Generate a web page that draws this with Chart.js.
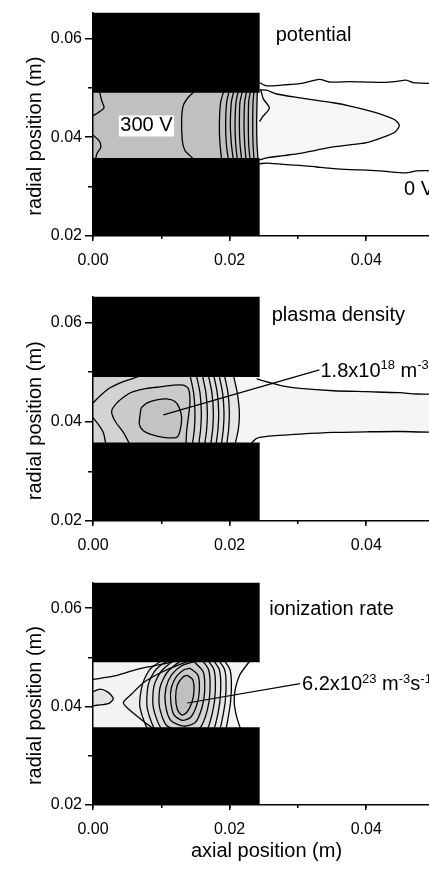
<!DOCTYPE html>
<html><head><meta charset="utf-8">
<script src="https://cdn.jsdelivr.net/npm/chart.js@4/dist/chart.umd.min.js"></script>
<style>
html,body{margin:0;padding:0;background:#fff;}
body{width:429px;height:871px;overflow:hidden;position:relative;}
canvas{position:absolute;left:0;}
</style></head><body>
<canvas id="c1" width="440" height="280" style="top:0px"></canvas>
<canvas id="c2" width="440" height="282" style="top:284px"></canvas>
<canvas id="c3" width="440" height="301" style="top:570px"></canvas>
<script>
// ---------- axes ----------
const axialTickValues = [0, 0.02, 0.04];
const axialTickLabels = ['0.00', '0.02', '0.04'];
const axialMinorTicks = [0, 0.01, 0.02, 0.03, 0.04, 0.05];
const radialTickValues = [0.02, 0.04, 0.06];
const radialTickLabels = ['0.02', '0.04', '0.06'];
const radialMinorTicks = [0.03, 0.05];
const axialRange = [0, 0.0508];
const radialRange = [0.02, 0.0652];

// ---------- electrodes ----------
const electrodeX = [0, 0.0244];
const upperElectrodeY = [0.049, 0.0652];
const lowerElectrodeY = [0.02, 0.0358];
const channelEdgeY = [0.0354, 0.0496];

// ---------- panel 1: potential ----------
const potPlumeTop = [[0.0244,0.04958],[0.02543,0.04951],[0.02689,0.04873],[0.03031,0.04794],[0.03324,0.04735],[0.03519,0.04696],[0.03763,0.0463],[0.04007,0.04545],[0.04251,0.04446],[0.04422,0.04348],[0.04485,0.04236]];
const potPlumeBottom = [[0.04422,0.04105],[0.04251,0.04],[0.04007,0.03888],[0.03763,0.03843],[0.03519,0.03803],[0.03275,0.03738],[0.03031,0.03672],[0.02787,0.03626],[0.02543,0.0358],[0.0244,0.03541]];
const potOuterTop = [[0.0244,0.05102],[0.02543,0.05037],[0.02787,0.05056],[0.03031,0.05083],[0.03314,0.05168],[0.0347,0.05115],[0.03763,0.05122],[0.04007,0.05115],[0.04251,0.05109],[0.04447,0.05129],[0.04583,0.05155],[0.0469,0.05102],[0.04919,0.05089],[0.0508,0.05089]];
const potOuterBottom = [[0.0244,0.03462],[0.02543,0.03475],[0.02787,0.03449],[0.03031,0.03429],[0.03275,0.03396],[0.03519,0.03364],[0.03763,0.03344],[0.04007,0.03331],[0.04251,0.03311],[0.04583,0.03278],[0.04739,0.03318],[0.0508,0.03318]];
const potZigzag = [[0.02455,0.04958],[0.02494,0.04774],[0.02582,0.04591],[0.02484,0.04413],[0.0244,0.04315]];
const potBow = [[0.0150,0.0495],[0.01396,0.04807],[0.01323,0.04643],[0.01298,0.04381],[0.01308,0.03921],[0.01347,0.03724],[0.0142,0.03626],[0.0149,0.0354]];
const potLeftUpper = [[0.00093,0.04938],[0.00127,0.04741],[0.00161,0.04591],[0.00078,0.04499],[0,0.04433]];
const potLeftLower = [[0,0.04039],[0.00093,0.03921],[0.00112,0.0379],[0.00054,0.03659],[0.00039,0.03541]];
const potDenseY = [0.0494, 0.0471, 0.0425, 0.0386, 0.0354];
const potDenseX = [
  [0.01918,0.01869,0.0185,0.01859,0.01884],
  [0.01996,0.01957,0.01942,0.01952,0.01982],
  [0.02064,0.02026,0.02011,0.02026,0.02055],
  [0.02128,0.02094,0.02079,0.02089,0.02113],
  [0.02191,0.02152,0.02143,0.02152,0.02177],
  [0.0225,0.02221,0.02211,0.02221,0.0224],
  [0.02308,0.02279,0.02274,0.02279,0.02299],
  [0.02357,0.02343,0.02338,0.02343,0.02357],
  [0.02406,0.02401,0.02396,0.02401,0.02416]
];

// ---------- panel 2: plasma density ----------
const densTopLeft = [[0,0.04375],[0.00102,0.04519],[0.00249,0.04683],[0.00444,0.04808],[0.0059,0.04873],[0.00664,0.04913]];
const densBottomLeft = [[0,0.04079],[0.00078,0.03948],[0.00151,0.03784],[0.0019,0.03535]];
const densSecond = [[0.00542,0.03535],[0.00444,0.03784],[0.00322,0.04014],[0.00273,0.04211],[0.00347,0.04375],[0.00493,0.04539],[0.0059,0.04604],[0.00786,0.0467],[0.00981,0.04703],[0.01176,0.04736],[0.01323,0.04736],[0.01396,0.0467],[0.0142,0.04407],[0.01396,0.04079],[0.01371,0.03817],[0.01362,0.03535]];
const densPeak = [[0.00703,0.04276],[0.00678,0.03948],[0.00737,0.03817],[0.00835,0.03751],[0.0103,0.03685],[0.01225,0.03685],[0.01274,0.03817],[0.01298,0.04079],[0.01264,0.04276],[0.01201,0.04407],[0.01079,0.0446],[0.00932,0.0444],[0.00786,0.04375],[0.00703,0.04276]];
const densDenseY = [0.0494, 0.04572, 0.04178, 0.03849, 0.03535];
const densDenseX = [
  [0.0142,0.01474,0.01493,0.01484,0.01454],
  [0.01513,0.01567,0.01586,0.01576,0.01547],
  [0.01601,0.01654,0.01674,0.01664,0.01635],
  [0.01689,0.01742,0.01762,0.01752,0.01723],
  [0.01767,0.0182,0.0184,0.0183,0.01801],
  [0.01845,0.01898,0.01918,0.01908,0.01879],
  [0.01923,0.01977,0.01996,0.01986,0.01957],
  [0.02055,0.02113,0.02143,0.02128,0.02079]
];
const densBandColors = ['#d3d3d3','#d5d5d5','#d7d7d7','#d9d9d9','#dbdbdb','#dedede','#e1e1e1','#e6e6e6'];
const densPlumeTop = [[0.02396,0.04867],[0.02494,0.04821],[0.02787,0.04716],[0.03031,0.0467],[0.03519,0.04624],[0.04007,0.04604],[0.04495,0.04584],[0.04739,0.04558],[0.0508,0.04558]];
const densPlumeBottom = [[0.02323,0.03574],[0.02396,0.03666],[0.02543,0.03705],[0.03031,0.03751],[0.03519,0.03784],[0.04007,0.03797],[0.04495,0.03803],[0.0508,0.03784]];
const densLeader = [[0.0103,0.04138],[0.03314,0.05044]];

// ---------- panel 3: ionization rate ----------
const ionTopLeft = [[0,0.04552],[0.00298,0.04617],[0.00542,0.04716],[0.00786,0.04801],[0.0103,0.04867],[0.01176,0.04913]];
const ionLeftBump = [[0,0.04302],[0.00102,0.04355],[0.00224,0.04289],[0.00298,0.04158],[0.00224,0.04059],[0.00054,0.04027],[0,0.04014]];
const ionRightEdge = [[0.02289,0.04913],[0.02152,0.04651],[0.02079,0.04323],[0.02069,0.0406],[0.02103,0.03797],[0.02162,0.03535]];
const ionLoops = [
  [[0.01381,0.04637],[0.01459,0.04552],[0.01479,0.04322],[0.01445,0.04073],[0.01371,0.0388],[0.01298,0.0383],[0.01235,0.03942],[0.0121,0.04191],[0.01235,0.0444],[0.01313,0.04598]],
  [[0.0142,0.04781],[0.01537,0.04637],[0.01557,0.04322],[0.01518,0.04027],[0.0143,0.03784],[0.01313,0.03719],[0.01186,0.0383],[0.01137,0.04125],[0.01147,0.04388],[0.01225,0.04617],[0.01332,0.04749]],
  [[0.01479,0.04913],[0.01615,0.04703],[0.01635,0.04322],[0.01596,0.03981],[0.01498,0.03679],[0.01332,0.03601],[0.01137,0.03719],[0.01059,0.0406],[0.01069,0.04388],[0.01152,0.0465],[0.01298,0.0483]],
  [[0.01557,0.05011],[0.01693,0.04749],[0.01713,0.04322],[0.01674,0.03928],[0.01567,0.03568],[0.01352,0.03482],[0.01079,0.03614],[0.00971,0.04007],[0.00981,0.04388],[0.01079,0.04683],[0.01274,0.04913]],
  [[0.0164,0.05011],[0.01772,0.04749],[0.01791,0.04322],[0.01752,0.03896],[0.01645,0.03469],[0.01371,0.03371],[0.0102,0.03522],[0.00883,0.03981],[0.00893,0.04421],[0.01005,0.04729],[0.01249,0.04978]],
  [[0.01723,0.05011],[0.0185,0.04749],[0.01869,0.04322],[0.0183,0.03863],[0.01723,0.03404],[0.01371,0.03272],[0.00957,0.03436],[0.00796,0.03955],[0.0081,0.04453],[0.00932,0.04768],[0.01225,0.05011]],
  [[0.01801,0.05011],[0.01928,0.04749],[0.01947,0.04322],[0.01908,0.0385],[0.01801,0.03371],[0.01371,0.03207],[0.00883,0.03371],[0.00688,0.03981],[0.00727,0.04467],[0.00859,0.04795],[0.01201,0.05031]],
  [[0.01879,0.05011],[0.02006,0.04749],[0.02025,0.04322],[0.01986,0.0383],[0.01879,0.03338],[0.01274,0.03207],[0.00932,0.03502],[0.00566,0.03896],[0.00444,0.04079],[0.00566,0.04257],[0.00737,0.04486],[0.00981,0.04683],[0.01274,0.0486],[0.01567,0.04978]]
];
const ionLoopColors = ['#c0c0c0','#c8c8c8','#cecece','#d4d4d4','#dadada','#e0e0e0','#e6e6e6','#ececec'];
const ionLeader = [[0.01381,0.04073],[0.03031,0.04467]];

// ---------- helpers ----------
const P = arr => arr.map(([x, y]) => ({x, y}));
function fillDs(points, color) {
  return {data: P(points), showLine: true, fill: 'shape', backgroundColor: color,
          borderColor: 'rgba(0,0,0,0)', borderWidth: 0, pointRadius: 0, tension: 0};
}
function lineDs(points, width, tension) {
  return {data: P(points), showLine: true, fill: false, borderColor: '#000',
          borderWidth: width || 1.3, pointRadius: 0, tension: tension === undefined ? 0.25 : tension};
}
function rect(xr, yr) { return [[xr[0], yr[0]], [xr[1], yr[0]], [xr[1], yr[1]], [xr[0], yr[1]]]; }
function denseLines(xs, ys) { return xs.map(row => row.map((x, i) => [x, ys[i]])); }
function leftOf(line) { return [[0, channelEdgeY[1]]].concat(line, [[0, channelEdgeY[0]]]); }
function electrodes() {
  return [fillDs(rect(electrodeX, upperElectrodeY), '#000'), fillDs(rect(electrodeX, lowerElectrodeY), '#000')];
}

Chart.defaults.font.family = "'Liberation Sans', Arial, Helvetica, sans-serif";
Chart.defaults.color = '#000';

function drawRich(ctx, parts, x, y, align, box) {
  const main = 20, sup = 13, raise = 6;
  const fam = Chart.defaults.font.family;
  let w = 0;
  parts.forEach(p => { ctx.font = (p.sup ? sup : main) + 'px ' + fam; p.w = ctx.measureText(p.t).width; w += p.w; });
  let sx = align === 'center' ? x - w / 2 : x;
  if (box) { ctx.fillStyle = '#fff'; ctx.fillRect(sx - 1.5, y - 10.5, w + 3, 21); }
  ctx.fillStyle = '#000';
  ctx.textBaseline = 'middle';
  ctx.textAlign = 'left';
  parts.forEach(p => {
    ctx.font = (p.sup ? sup : main) + 'px ' + fam;
    ctx.fillText(p.t, sx, p.sup ? y - raise : y);
    sx += p.w;
  });
}

const textPlugin = {
  id: 'panelText',
  afterDraw(chart, args, opts) {
    const ctx = chart.ctx, xs = chart.scales.x, ys = chart.scales.y;
    ctx.save();
    (opts.items || []).forEach(it => {
      drawRich(ctx, it.parts, xs.getPixelForValue(it.at[0]), ys.getPixelForValue(it.at[1]), it.align, it.box);
    });
    ctx.translate(opts.yTitleX, ys.getPixelForValue(opts.yTitleAt));
    ctx.rotate(-Math.PI / 2);
    ctx.font = '20px ' + Chart.defaults.font.family;
    ctx.fillStyle = '#000';
    ctx.textAlign = 'center';
    ctx.textBaseline = 'middle';
    ctx.fillText('radial position (m)', 0, 0);
    ctx.restore();
  }
};

function buildChart(id, layers, xAxisHeight, showXTitle, items) {
  const datasets = layers.map((d, i) => Object.assign(d, {order: layers.length - i}));
  return new Chart(document.getElementById(id), {
    type: 'scatter',
    data: {datasets},
    options: {
      responsive: false, animation: false, events: [],
      layout: {padding: {top: 8, left: 0, right: 0, bottom: 0}},
      plugins: {legend: {display: false}, tooltip: {enabled: false},
                panelText: {items, yTitleX: 35, yTitleAt: 0.0402}},
      scales: {
        x: {type: 'linear', axis: 'x', position: 'bottom', min: axialRange[0], max: axialRange[1],
            afterBuildTicks: s => { s.ticks = axialTickValues.map(v => ({value: v})); },
            ticks: {callback: (v, i) => axialTickLabels[i], padding: 10, font: {size: 16}, color: '#000', maxRotation: 0, autoSkip: false},
            grid: {drawOnChartArea: false, drawTicks: true, tickLength: 5, color: '#000', lineWidth: 1.5},
            border: {display: true, color: '#000', width: 1.5, z: 1},
            title: {display: showXTitle, text: 'axial position (m)', font: {size: 20}, color: '#000', padding: {top: 0, bottom: 8}},
            afterFit: s => { s.height = xAxisHeight; }},
        y: {type: 'linear', axis: 'y', position: 'left', min: radialRange[0], max: radialRange[1],
            afterBuildTicks: s => { s.ticks = radialTickValues.map(v => ({value: v})); },
            ticks: {callback: (v, i) => radialTickLabels[i], padding: 3, font: {size: 16}, color: '#000', autoSkip: false},
            grid: {drawOnChartArea: false, drawTicks: true, tickLength: 8, color: '#000', lineWidth: 1.5},
            border: {display: true, color: '#000', width: 1.5, z: 1},
            afterFit: s => { s.width = 93; }},
        xMinor: {type: 'linear', axis: 'x', position: {y: radialRange[0]}, min: axialRange[0], max: axialRange[1],
            afterBuildTicks: s => { s.ticks = axialMinorTicks.map(v => ({value: v})); },
            ticks: {display: false},
            grid: {drawOnChartArea: false, drawTicks: true, tickLength: 3, color: '#000', lineWidth: 1.5},
            border: {display: false}},
        yMinor: {type: 'linear', axis: 'y', position: {x: axialRange[0]}, min: radialRange[0], max: radialRange[1],
            afterBuildTicks: s => { s.ticks = radialMinorTicks.map(v => ({value: v})); },
            ticks: {display: false},
            grid: {drawOnChartArea: false, drawTicks: true, tickLength: 5, color: '#000', lineWidth: 1.5},
            border: {display: false}}
      }
    },
    plugins: [textPlugin]
  });
}

// ---------- panel 1 ----------
(function () {
  const dense = denseLines(potDenseX, potDenseY);
  const plumeLine = potPlumeTop.concat(potPlumeBottom);
  const plumePoly = [[0.0235, channelEdgeY[1]]].concat(plumeLine, [[0.0235, channelEdgeY[0]]]);
  const layers = [
    fillDs(plumePoly, '#f6f6f6'),
    fillDs(leftOf(dense[dense.length - 1]), '#c0c0c0'),
    lineDs(plumeLine), lineDs(potOuterTop), lineDs(potOuterBottom), lineDs(potZigzag),
    lineDs(potBow), lineDs(potLeftUpper), lineDs(potLeftLower)
  ].concat(dense.map(l => lineDs(l)), electrodes());
  buildChart('c1', layers, 44, false, [
    {at: [0.02675, 0.06067], parts: [{t: 'potential'}]},
    {at: [0.00783, 0.04226], parts: [{t: '300 V'}], align: 'center', box: true},
    {at: [0.04553, 0.02937], parts: [{t: '0 V'}]}
  ]);
})();

// ---------- panel 2 ----------
(function () {
  const dense = denseLines(densDenseX, densDenseY);
  const plumePoly = [[0.0200, channelEdgeY[1]], [0.02396, channelEdgeY[1]]].concat(
      densPlumeTop, densPlumeBottom.slice().reverse(), [[0.02323, channelEdgeY[0]], [0.0200, channelEdgeY[0]]]);
  const bands = [];
  for (let k = dense.length - 1; k >= 0; k--) bands.push(fillDs(leftOf(dense[k]), densBandColors[k]));
  const layers = [fillDs(plumePoly, '#f5f5f5')].concat(bands, [
    fillDs(densSecond, '#cbcbcb'),
    fillDs(densPeak, '#c3c3c3'),
    lineDs(densTopLeft), lineDs(densBottomLeft), lineDs(densSecond), lineDs(densPeak),
    lineDs(densPlumeTop), lineDs(densPlumeBottom)
  ], dense.map(l => lineDs(l)), electrodes(), [lineDs(densLeader, 1.2, 0)]);
  buildChart('c2', layers, 45, false, [
    {at: [0.02616, 0.06146], parts: [{t: 'plasma density'}]},
    {at: [0.0333, 0.0502], parts: [{t: '1.8x10'}, {t: '18', sup: true}, {t: ' m'}, {t: '-3', sup: true}]}
  ]);
})();

// ---------- panel 3 ----------
(function () {
  const basePoly = [[0, channelEdgeY[1]], [0.0229, channelEdgeY[1]]].concat(
      ionRightEdge, [[0.0216, channelEdgeY[0]], [0, channelEdgeY[0]]]);
  const fills = [];
  for (let k = ionLoops.length - 1; k >= 0; k--) fills.push(fillDs(ionLoops[k], ionLoopColors[k]));
  const layers = [fillDs(basePoly, '#f3f3f3'), fillDs(ionLeftBump, '#e4e4e4')].concat(
    fills,
    [lineDs(ionTopLeft), lineDs(ionLeftBump), lineDs(ionRightEdge)],
    ionLoops.map(l => lineDs(l.concat([l[0]]))),
    electrodes(), [lineDs(ionLeader, 1.2, 0)]);
  buildChart('c3', layers, 66, true, [
    {at: [0.0258, 0.05976], parts: [{t: 'ionization rate'}]},
    {at: [0.0306, 0.0444], parts: [{t: '6.2x10'}, {t: '23', sup: true}, {t: ' m'}, {t: '-3', sup: true}, {t: 's'}, {t: '-1', sup: true}]}
  ]);
})();
</script>
</body></html>
